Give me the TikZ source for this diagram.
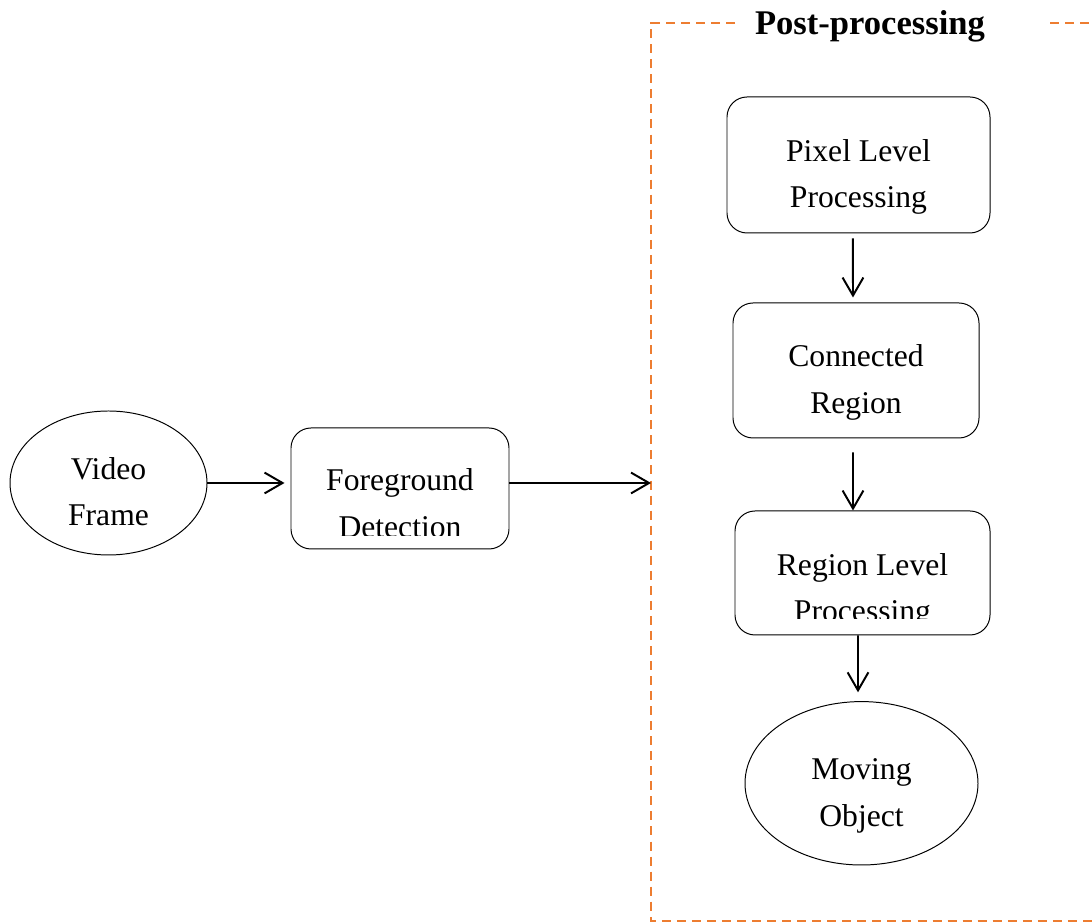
\documentclass[tikz,border=0pt]{standalone}
\usepackage{fontspec}
\setmainfont{Liberation Serif}
\usepackage{tikz}
\usetikzlibrary{shapes.geometric, arrows.meta, positioning}
\definecolor{myorange}{RGB}{237,125,49}
\tikzset{
  boxtext/.style={align=center, font=\fontsize{22.5}{33.4}\selectfont,
    text height=2.15cm, text depth=0pt},
  stagebox/.style={rectangle, draw=black, rounded corners=0.5cm,
    line width=0.7pt, inner sep=0pt},
  endpoint/.style={ellipse, draw=black, line width=0.7pt, inner sep=0pt},
  arrow/.style={-{Straight Barb[length=0.45cm, width=0.52cm]}, line width=1.4pt},
  frame/.style={dash pattern=on 6.4pt off 4.3pt, line width=1.4pt, color=myorange}
}

\begin{document}
\begin{tikzpicture}
  \useasboundingbox (0,0) rectangle (27.3,23.1);

  % Input side
  \node[endpoint, boxtext, minimum width=4.925cm, minimum height=3.6cm]
    (video) at (2.7125,11.025) {Video\\Frame};
  \node[stagebox, minimum width=5.45cm, minimum height=3.025cm]
    (fg) at (10.0,10.8875) {};
  \begin{scope}
    \clip (fg.north west) rectangle ([yshift=0.35cm]fg.south east);
    \node[boxtext] (fgtext) at ([yshift=-0.15cm]fg.center) {Foreground\\Detection};
  \end{scope}

  % Post-processing frame
  \draw[frame] (18.375,22.525) -- (16.275,22.525) -- (16.275,0.075) -- (27.5,0.075);
  \draw[frame] (26.25,22.525) -- (27.5,22.525);
  \node[font=\bfseries\fontsize{24.6}{30}\selectfont] (title) at (21.75,22.43) {Post-processing};
  \coordinate (ppin) at (16.275,11.025);

  % Stages
  \node[stagebox, boxtext, minimum width=6.575cm, minimum height=3.4cm]
    (pix) at (21.4625,18.975) {Pixel Level\\Processing};
  \node[stagebox, boxtext, minimum width=6.15cm, minimum height=3.375cm]
    (conn) at (21.4,13.8375) {Connected\\Region};
  \node[stagebox, minimum width=6.375cm, minimum height=3.1cm]
    (reg) at (21.5625,8.775) {};
  \begin{scope}
    \clip (reg.north west) rectangle ([yshift=0.42cm]reg.south east);
    \node[boxtext] (regtext) at ([yshift=-0.15cm]reg.center) {Region Level\\Processing};
  \end{scope}
  \node[endpoint, boxtext, minimum width=5.825cm, minimum height=4.085cm]
    (obj) at (21.5375,3.5175) {Moving\\Object};

  % Arrows
  \draw[arrow, shorten >=0.15cm] (video.east) -- (fg.west |- video.east);
  \draw[arrow] (fg.east |- video.east) -- (ppin);
  \draw[arrow] ([xshift=-0.14cm, yshift=-0.125cm]pix.south) -- ([xshift=-0.075cm, yshift=0.125cm]conn.north);
  \draw[arrow] ([xshift=-0.075cm, yshift=-0.35cm]conn.south) -- ([xshift=-0.2375cm]reg.north);
  \draw[arrow] ([xshift=-0.1125cm]reg.south) -- ([xshift=-0.0875cm, yshift=0.22cm]obj.north);
\end{tikzpicture}
\end{document}
